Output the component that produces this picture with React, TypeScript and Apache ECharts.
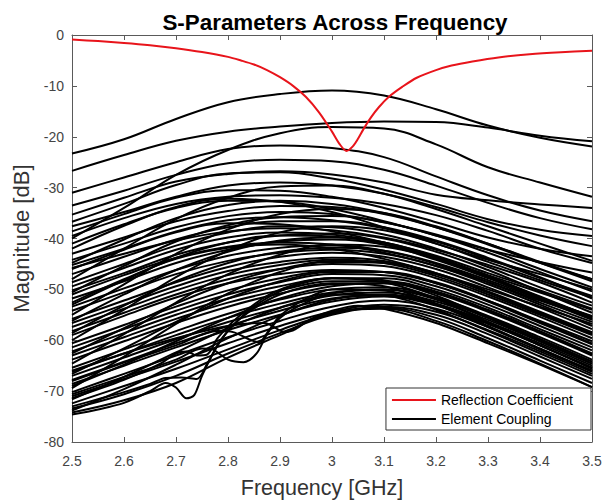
import React, { useEffect, useRef } from "react";
import * as echarts from "echarts";

const FREQ = [2.5, 2.6, 2.7, 2.8, 2.9, 3.0, 3.1, 3.2, 3.3, 3.4, 3.5];

const UPPER_CURVES: number[][] = [
  [-23.3, -20.5, -16.5, -13.2, -11.6, -10.9, -11.9, -14.6, -17.8, -20.2, -21.9],
  [-26.7, -23.6, -20.8, -19.0, -18.0, -17.3, -17.0, -17.1, -18.2, -19.8, -20.9],
  [-31.0, -28.0, -25.0, -22.4, -21.7, -22.2, -24.0, -27.8, -31.5, -34.5, -36.6],
  [-40.0, -34.0, -27.5, -22.6, -19.3, -18.1, -18.4, -21.5, -26.0, -29.0, -31.8],
  [-33.5, -30.6, -27.5, -25.2, -24.5, -24.8, -26.5, -29.6, -33.0, -36.0, -38.2],
  [-35.3, -32.0, -28.8, -27.3, -26.8, -27.4, -29.0, -31.4, -32.5, -33.3, -34.0],
  [-36.7, -33.2, -29.5, -27.2, -27.0, -28.2, -30.4, -33.2, -36.2, -38.3, -39.5],
  [-37.6, -34.8, -31.8, -29.6, -29.0, -29.6, -31.2, -33.8, -36.8, -39.4, -41.5],
];

const MIDDLE_CURVES: number[][] = [
  [-38.6, -35.2, -32.0, -30.5, -30.6, -31.8, -34.0, -36.8, -39.8, -42.0, -43.5],
  [-39.5, -36.0, -33.2, -31.8, -31.5, -32.0, -33.2, -35.4, -38.5, -42.0, -44.8],
  [-41.0, -37.2, -34.0, -32.6, -32.8, -34.2, -36.6, -39.4, -42.2, -44.6, -46.7],
  [-42.0, -37.5, -33.8, -32.2, -32.8, -34.8, -37.8, -41.0, -44.2, -47.0, -50.0],
  [-43.0, -39.8, -36.6, -34.6, -33.6, -33.8, -35.2, -37.8, -41.0, -44.8, -48.4],
  [-44.2, -41.0, -37.8, -35.6, -34.8, -35.2, -36.8, -39.2, -42.2, -46.0, -49.6],
  [-44.8, -40.2, -36.0, -33.4, -32.6, -33.2, -35.0, -37.8, -41.2, -44.8, -48.0],
  [-45.2, -42.0, -38.6, -36.4, -35.8, -36.4, -38.0, -40.6, -44.0, -47.8, -51.3],
  [-45.8, -43.0, -40.4, -38.6, -38.0, -38.4, -39.8, -42.2, -45.2, -48.6, -52.6],
  [-46.0, -42.2, -38.8, -37.0, -37.2, -38.6, -40.8, -43.8, -47.2, -50.6, -54.0],
  [-47.0, -43.6, -40.2, -37.8, -36.6, -36.6, -37.8, -40.4, -43.8, -47.6, -51.8],
  [-48.0, -42.0, -36.2, -32.0, -29.8, -29.6, -31.2, -34.2, -37.6, -41.0, -44.4],
  [-48.6, -45.0, -41.4, -38.8, -37.6, -37.8, -39.2, -42.0, -45.6, -49.6, -53.2],
  [-49.4, -45.8, -42.2, -39.8, -38.8, -39.2, -40.8, -43.4, -46.8, -50.2, -53.8],
  [-50.2, -46.8, -43.2, -40.8, -39.4, -39.0, -40.0, -42.6, -46.2, -50.4, -54.6],
  [-50.6, -45.4, -40.6, -37.4, -35.8, -35.6, -36.8, -39.4, -42.8, -46.6, -50.4],
  [-51.0, -47.2, -43.8, -41.6, -40.8, -41.2, -42.8, -45.4, -48.6, -52.2, -55.6],
  [-51.8, -48.4, -44.8, -42.2, -40.6, -40.2, -41.2, -43.8, -47.4, -51.6, -55.8],
  [-52.6, -48.0, -44.0, -41.8, -41.2, -42.0, -44.0, -46.8, -50.0, -53.4, -56.8],
  [-53.0, -48.2, -43.8, -40.8, -39.4, -39.6, -41.2, -44.2, -47.8, -51.8, -55.2],
  [-53.4, -49.8, -46.2, -43.4, -41.8, -41.4, -42.4, -45.0, -48.6, -52.6, -56.4],
  [-54.2, -50.6, -47.0, -44.4, -42.8, -42.2, -43.0, -45.4, -49.0, -53.0, -57.2],
  [-55.0, -49.0, -43.0, -38.2, -35.2, -34.2, -35.0, -37.6, -41.0, -44.6, -48.0],
  [-55.8, -52.2, -48.6, -45.6, -43.6, -42.8, -43.6, -46.0, -49.6, -53.6, -57.8],
  [-56.2, -51.0, -46.2, -42.6, -40.4, -39.8, -40.8, -43.6, -47.4, -51.4, -55.4],
  [-56.6, -53.0, -49.4, -46.4, -44.6, -43.8, -44.4, -46.8, -50.4, -54.4, -58.4],
];

const LOWER_CURVES: number[][] = [
  [-57.4, -53.8, -50.2, -47.2, -45.2, -44.2, -44.8, -47.4, -51.0, -55.0, -59.0],
  [-58.2, -54.6, -51.0, -48.0, -46.0, -45.0, -45.4, -47.8, -51.4, -55.4, -59.6],
  [-58.6, -53.2, -48.4, -44.8, -42.6, -41.8, -42.4, -44.8, -48.2, -52.0, -56.0],
  [-59.0, -55.2, -51.6, -48.8, -47.0, -46.2, -46.6, -48.8, -52.2, -56.2, -60.2],
  [-60.0, -54.0, -47.6, -42.4, -38.8, -37.6, -38.4, -41.0, -44.6, -48.2, -51.6],
  [-60.6, -57.0, -53.4, -50.2, -47.8, -46.4, -46.6, -48.8, -52.4, -56.6, -60.8],
  [-61.4, -57.8, -54.2, -51.0, -48.6, -47.0, -47.2, -49.4, -53.0, -57.2, -61.4],
  [-62.2, -58.6, -55.0, -51.8, -49.4, -47.8, -47.8, -50.0, -53.6, -57.8, -62.0],
  [-62.6, -57.6, -52.8, -48.8, -46.0, -44.6, -44.8, -47.0, -50.6, -54.8, -58.8],
  [-63.0, -59.4, -55.8, -52.6, -50.2, -48.4, -48.4, -50.4, -54.0, -58.2, -62.6],
  [-63.8, -60.2, -56.6, -53.4, -50.8, -49.0, -48.8, -50.8, -54.4, -58.6, -63.0],
  [-64.6, -58.8, -52.6, -47.0, -43.2, -41.2, -41.6, -44.0, -47.6, -51.6, -55.4],
  [-65.4, -61.8, -58.2, -54.8, -52.0, -50.0, -49.6, -51.6, -55.2, -59.4, -63.8],
  [-66.2, -62.6, -59.0, -55.6, -52.8, -50.6, -50.0, -52.0, -55.6, -59.8, -64.2],
  [-66.6, -61.6, -56.4, -51.8, -48.4, -46.6, -46.6, -48.6, -52.2, -56.4, -60.6],
  [-67.0, -63.4, -59.8, -56.4, -53.6, -51.2, -50.6, -52.4, -56.0, -60.2, -64.6],
  [-67.8, -64.2, -60.6, -57.2, -54.2, -51.8, -51.0, -52.8, -56.4, -60.6, -65.0],
  [-68.6, -65.0, -61.4, -58.0, -55.0, -52.4, -51.4, -53.2, -56.8, -61.0, -65.4],
  [-69.0, -64.8, -60.2, -55.6, -51.8, -49.4, -48.8, -50.6, -54.2, -58.4, -62.8],
  [-69.4, -63.2, -56.8, -50.8, -46.6, -44.4, -44.6, -47.0, -50.6, -54.6, -58.6],
  [-70.2, -66.6, -63.0, -59.4, -56.2, -53.4, -52.2, -53.8, -57.4, -61.6, -66.0],
  [-71.0, -67.6, -64.2, -60.6, -57.2, -54.4, -53.0, -54.4, -58.0, -62.2, -66.6],
  [-71.6, -67.2, -62.4, -57.6, -53.6, -50.8, -50.0, -51.8, -55.4, -59.8, -64.2],
  [-72.4, -69.0, -65.6, -61.8, -58.0, -54.8, -53.4, -55.0, -58.8, -63.2, -67.6],
  [-73.4, -70.6, -67.0, -62.6, -58.6, -55.0, -53.6, -55.6, -59.6, -64.0, -68.4],
  [-73.8, -69.6, -64.8, -59.6, -55.2, -52.0, -51.2, -53.0, -56.6, -61.0, -65.6],
  [-74.2, -71.8, -68.4, -63.4, -59.0, -54.6, -53.8, -56.2, -60.2, -64.6, -69.2],
];

// curves with resonant dips: [frequency GHz, magnitude dB] pairs
const RESONANT_CURVES: number[][][] = [
  [[2.5, -74.6], [2.55, -73.6], [2.6, -72.3], [2.65, -70.0], [2.68, -68.4], [2.7, -69.3], [2.72, -71.4], [2.735, -70.8], [2.75, -67.0], [2.78, -61.0], [2.82, -56.0], [2.87, -52.0], [2.93, -49.2], [3.0, -47.8], [3.1, -48.6], [3.2, -51.8], [3.3, -56.4], [3.4, -61.0], [3.5, -65.4]],
  [[2.5, -73.0], [2.55, -71.6], [2.6, -70.2], [2.65, -68.6], [2.68, -67.4], [2.71, -67.3], [2.74, -67.6], [2.76, -64.6], [2.79, -59.4], [2.83, -55.2], [2.9, -51.0], [3.0, -48.8], [3.1, -49.4], [3.2, -52.8], [3.3, -57.2], [3.4, -61.8], [3.5, -66.2]],
  [[2.5, -71.4], [2.6, -67.8], [2.67, -64.6], [2.7, -62.6], [2.72, -62.2], [2.74, -63.0], [2.76, -62.8], [2.78, -59.6], [2.82, -55.4], [2.88, -51.0], [2.95, -48.4], [3.0, -47.8], [3.1, -48.2], [3.2, -51.2], [3.3, -55.6], [3.4, -60.2], [3.5, -64.6]],
  [[2.5, -70.6], [2.6, -67.2], [2.7, -63.8], [2.75, -61.6], [2.77, -61.8], [2.8, -63.8], [2.83, -64.3], [2.855, -62.6], [2.875, -58.8], [2.9, -55.6], [2.95, -52.6], [3.0, -51.0], [3.1, -51.2], [3.2, -54.0], [3.3, -58.2], [3.4, -62.6], [3.5, -67.0]],
  [[2.5, -68.0], [2.6, -64.4], [2.7, -61.0], [2.78, -58.2], [2.81, -58.4], [2.84, -59.8], [2.86, -60.4], [2.875, -58.6], [2.9, -55.2], [2.95, -51.8], [3.0, -50.0], [3.1, -50.2], [3.2, -53.0], [3.3, -57.4], [3.4, -61.8], [3.5, -66.0]],
  [[2.5, -66.0], [2.6, -62.6], [2.7, -59.6], [2.8, -57.2], [2.87, -56.6], [2.91, -58.4], [2.93, -57.8], [2.96, -55.8], [3.0, -54.2], [3.05, -53.2], [3.1, -53.8], [3.2, -56.6], [3.3, -60.6], [3.4, -64.8], [3.5, -69.2]],
];

const REFLECTION_FREQ = [2.5, 2.55, 2.6, 2.65, 2.7, 2.75, 2.8, 2.825, 2.85, 2.875, 2.9, 2.925, 2.95, 2.975, 3.0, 3.015, 3.028, 3.04, 3.05, 3.06, 3.075, 3.09, 3.11, 3.135, 3.163, 3.2, 3.23, 3.27, 3.32, 3.38, 3.44, 3.5];
const REFLECTION_DB = [-0.9, -1.2, -1.55, -2.0, -2.6, -3.35, -4.3, -5.0, -5.8, -6.9, -8.3, -10.0, -12.2, -15.2, -19.0, -21.5, -22.8, -21.9, -20.4, -18.6, -16.2, -14.2, -12.1, -10.2, -8.4, -6.9, -6.0, -5.2, -4.4, -3.8, -3.4, -3.1];

const COUPLING_NAME = "Element Coupling";
const REFLECTION_NAME = "Reflection Coefficient";
const FONT = "Liberation Sans, Arial, sans-serif";

export default function App() {
  const ref = useRef<HTMLDivElement>(null);

  useEffect(() => {
    if (!ref.current) return;
    const chart = echarts.init(ref.current, undefined, { renderer: "svg" });

    const blackLine = {
      type: "line",
      name: COUPLING_NAME,
      showSymbol: false,
      symbol: "none",
      lineStyle: { color: "#000", width: 2 },
      itemStyle: { color: "#000" },
      z: 2,
      silent: true,
    };

    const series: any[] = [];
    [...UPPER_CURVES, ...MIDDLE_CURVES, ...LOWER_CURVES].forEach((vals) => {
      series.push({ ...blackLine, smooth: 0.4, data: vals.map((v, i) => [FREQ[i], v]) });
    });
    RESONANT_CURVES.forEach((pts) => {
      series.push({ ...blackLine, smooth: 0.3, data: pts });
    });
    series.push({
      type: "line",
      name: REFLECTION_NAME,
      showSymbol: false,
      symbol: "none",
      smooth: 0.3,
      lineStyle: { color: "#e8141b", width: 2 },
      itemStyle: { color: "#e8141b" },
      z: 3,
      data: REFLECTION_FREQ.map((f, i) => [f, REFLECTION_DB[i]]),
    });

    const axisColor = "#5a5a5a";
    const labelColor = "#444";

    chart.setOption({
      animation: false,
      backgroundColor: "#fff",
      title: {
        text: "S-Parameters Across Frequency",
        left: 330,
        top: 6,
        textAlign: "center",
        textStyle: { fontSize: 22.4, fontWeight: "bold", color: "#000", fontFamily: FONT },
      },
      legend: {
        data: [
          { name: REFLECTION_NAME, icon: "rect" },
          { name: COUPLING_NAME, icon: "rect" },
        ],
        orient: "vertical",
        right: 14,
        top: 388,
        itemWidth: 44,
        itemHeight: 2,
        itemGap: 5,
        padding: [5, 18, 4, 6],
        backgroundColor: "#fff",
        borderColor: "#333",
        borderWidth: 1,
        borderRadius: 0,
        selectedMode: false,
        textStyle: { fontSize: 14, color: "#000", fontFamily: FONT },
      },
      grid: { left: 72, right: 13, top: 35, bottom: 61, containLabel: false },
      xAxis: [
        {
          type: "value",
          min: 2.5,
          max: 3.5,
          interval: 0.1,
          position: "bottom",
          name: "Frequency [GHz]",
          nameLocation: "middle",
          nameGap: 35,
          nameTextStyle: { fontSize: 21.5, color: "#333", fontFamily: FONT, padding: [0, 20, 0, 0] },
          axisLine: { show: true, onZero: false, lineStyle: { color: axisColor } },
          axisTick: { show: true, inside: true, length: 5, lineStyle: { color: axisColor } },
          axisLabel: { color: labelColor, fontSize: 14, margin: 12, fontFamily: FONT },
          splitLine: { show: false },
        },
        {
          type: "value",
          min: 2.5,
          max: 3.5,
          interval: 0.1,
          position: "top",
          axisLine: { show: true, onZero: false, lineStyle: { color: axisColor } },
          axisTick: { show: true, inside: true, length: 5, lineStyle: { color: axisColor } },
          axisLabel: { show: false },
          splitLine: { show: false },
        },
      ],
      yAxis: [
        {
          type: "value",
          min: -80,
          max: 0,
          interval: 10,
          position: "left",
          name: "Magnitude [dB]",
          nameLocation: "middle",
          nameGap: 35,
          nameTextStyle: { fontSize: 22, color: "#333", fontFamily: FONT },
          axisLine: { show: true, onZero: false, lineStyle: { color: axisColor } },
          axisTick: { show: true, inside: true, length: 5, lineStyle: { color: axisColor } },
          axisLabel: { color: labelColor, fontSize: 14, margin: 8, fontFamily: FONT },
          splitLine: { show: false },
        },
        {
          type: "value",
          min: -80,
          max: 0,
          interval: 10,
          position: "right",
          axisLine: { show: true, onZero: false, lineStyle: { color: axisColor } },
          axisTick: { show: true, inside: true, length: 5, lineStyle: { color: axisColor } },
          axisLabel: { show: false },
          splitLine: { show: false },
        },
      ],
      series,
    });

    return () => chart.dispose();
  }, []);

  return (
    <div
      ref={ref}
      style={{ position: "fixed", left: 0, top: 0, width: 605, height: 504 }}
    />
  );
}
